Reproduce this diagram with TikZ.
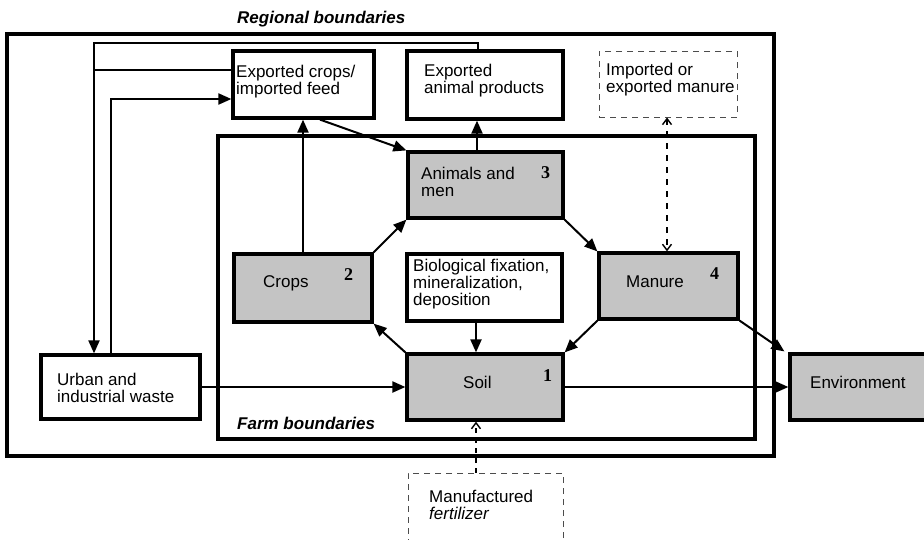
\documentclass[tikz,border=0pt]{standalone}
\usepackage{fontspec}
\setmainfont{Liberation Sans}
\newfontfamily\numfont{Liberation Serif}
\usetikzlibrary{arrows.meta,calc}

\begin{document}
\begin{tikzpicture}[x=1pt,y=-1pt,
  font=\fontsize{17}{16.8}\selectfont,
  frame/.style={draw, line width=3.2pt, inner sep=0pt},
  box/.style={draw, line width=3.2pt, inner sep=0pt, fill=white},
  pool/.style={box, fill=black!23},
  dbox/.style={draw=black!70, line width=1pt, dash pattern=on 6pt off 5pt, inner sep=0pt},
  conn/.style={line width=2pt},
  arr/.style={conn, -{Triangle[length=13pt,width=11pt]}},
  Vb/.tip={Straight Barb[length=6pt,width=9pt,line width=1.4pt]},
  txt/.style={anchor=base west, inner sep=0pt, align=left},
  num/.style={anchor=base west, inner sep=0pt, font=\numfont\bfseries\fontsize{18}{18}\selectfont},
  lbl/.style={anchor=base west, inner sep=0pt, font=\bfseries\itshape\fontsize{17}{17}\selectfont}]
\useasboundingbox (0,0) rectangle (924,539);

% boundaries
\node[frame, minimum width=767, minimum height=422] (region) at (390.5,245) {};
\node[frame, minimum width=537, minimum height=303] (farm) at (486.5,287.5) {};

% boxes
\node[box, minimum width=141, minimum height=67] (expcrops) at (303.5,84.5) {};
\node[box, minimum width=156, minimum height=68] (expanim) at (485,85) {};
\node[dbox, minimum width=138, minimum height=66] (impman) at (668,84) {};
\node[pool, minimum width=155, minimum height=66] (animals) at (485.5,185) {};
\node[pool, minimum width=138, minimum height=68] (crops) at (303,288) {};
\node[box, minimum width=155, minimum height=67] (bio) at (484.5,287.5) {};
\node[pool, minimum width=139, minimum height=66] (manure) at (668.5,286) {};
\node[pool, minimum width=156, minimum height=66] (soil) at (485,387) {};
\node[box, minimum width=159, minimum height=64] (urban) at (120.5,387) {};
\node[pool, minimum width=150, minimum height=66] (env) at (865,387) {};
\node[dbox, minimum width=155, minimum height=97] (fert) at (485.5,521.5) {};

% texts (base anchor = baseline of the last line)
\node[lbl] (tregion) at (237,23) {Regional boundaries};
\node[lbl] (tfarm) at (237,429) {Farm boundaries};
\node[txt] (texpcrops) at (236,94) {Exported crops/\\imported feed};
\node[txt] (texpanim) at (424,93) {Exported\\animal products};
\node[txt] (timpman) at (606,92) {Imported or\\exported manure};
\node[txt] (tanimals) at (421,196) {Animals and\\men};
\node[num] (n3) at (541,178) {3};
\node[txt] (tcrops) at (263,287) {Crops};
\node[num] (n2) at (344,280) {2};
\node[txt] (tbio) at (413,305) {Biological fixation,\\mineralization,\\deposition};
\node[txt] (tmanure) at (626,287) {Manure};
\node[num] (n4) at (710,279) {4};
\node[txt] (tsoil) at (463,388) {Soil};
\node[num] (n1) at (543,381) {1};
\node[txt] (tenv) at (810,388) {Environment};
\node[txt] (turban) at (57,402) {Urban and\\industrial waste};
\node[txt] (tfert) at (429,519) {Manufactured\\\textit{fertilizer}};

% regional loops
\draw[arr] (expanim.north -| 478,0) -- (478,43) -- (94,43) -- (urban.north -| 94,0);
\draw[conn] (expcrops.west |- 0,70) -- (94,70);
\draw[arr] (urban.north -| 111,0) -- (111,99) -- (expcrops.west |- 0,99);

% farm cycle
\draw[arr] (crops.north) -- (crops.north |- expcrops.south);
\draw[arr] (expcrops.south -| 320,0) -- (animals.north west);
\draw[arr] (animals.north -| 477,0) -- (expanim.south -| 477,0);
\draw[arr] (crops.north east) -- (animals.south west);
\draw[arr] (animals.south east) -- (manure.north west);
\draw[arr] (manure.south west) -- (soil.north east);
\draw[arr] (soil.north west) -- (crops.south east);
\draw[arr] (bio.south -| 476,0) -- (soil.north -| 476,0);

% losses and inputs
\draw[arr] (manure.south east) -- ($(env.north west)+(-4,-1)$);
\draw[arr] (soil.east) -- (env.west);
\draw[arr] (urban.east) -- (soil.west);
\draw[line width=1.3pt, dash pattern=on 5pt off 5pt, -Vb] (fert.north -| 476,0) -- (soil.south -| 476,0);
\draw[line width=2.2pt, dash pattern=on 6pt off 6pt, Vb-Vb] (impman.south -| 667,0) -- (manure.north -| 667,0);
\end{tikzpicture}
\end{document}
